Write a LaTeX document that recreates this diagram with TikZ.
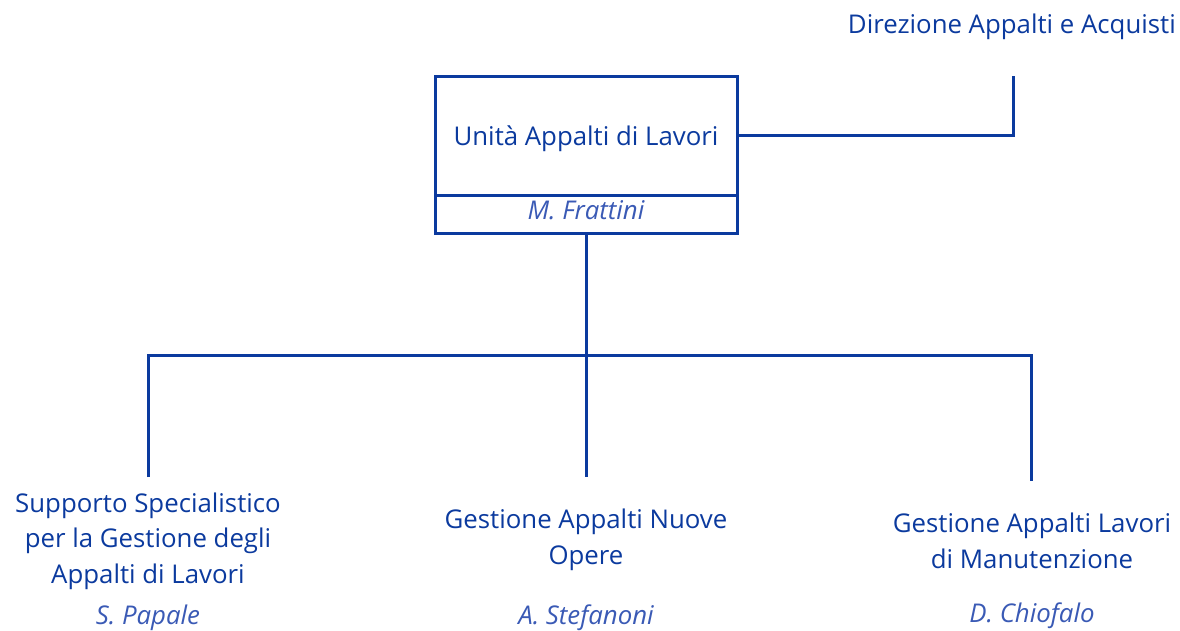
\documentclass[tikz,border=0pt]{standalone}
\usepackage{fontspec}
\setmainfont{Open Sans}
\definecolor{navy}{HTML}{0B3A9E}
\definecolor{namecol}{HTML}{3A5AB5}
\begin{document}
\begin{tikzpicture}[x=1pt,y=-1pt,
  conn/.style={draw=navy,line width=3pt},
  unit/.style={font=\fontsize{25.8}{35.5}\selectfont,text=navy,align=center,inner sep=0pt,anchor=base},
  person/.style={font=\fontsize{25.8}{35.5}\selectfont\itshape,text=namecol,inner sep=0pt,anchor=base},
  boxpart/.style={draw=navy,line width=3pt,minimum width=302pt,inner sep=0pt}]
\useasboundingbox (0,0) rectangle (1180,630);
% main box
\node[boxpart,minimum height=119pt] (top) at (586,135.5) {};
\node[boxpart,minimum height=38pt] (bot) at (586,214) {};
\node[unit] (title) at (586,145) {Unità Appalti di Lavori};
\node[person] (head) at (586,219) {M. Frattini};
% direction
\node[unit,anchor=base east] (dir) at (1176,33) {Direzione Appalti e Acquisti};
\coordinate (dirend) at (1013,76);
\draw[conn] (top.east) -- (1013,135.5) -- (dirend);
% tree
\coordinate (hub) at (586,355);
\coordinate (e1) at (148,477);
\coordinate (e2) at (586,477);
\coordinate (e3) at (1031,481);
\draw[conn] (bot.south) -- (hub);
\draw[conn] (e1) -- (148,355) -- (1031,355) -- (e3);
\draw[conn] (hub) -- (e2);
% units (base anchor = baseline of last line)
\node[unit] (u1) at (148,583) {Supporto Specialistico\\per la Gestione degli\\Appalti di Lavori};
\node[person] (p1) at (148,624) {S. Papale};
\node[unit] (u2) at (586,564) {Gestione Appalti Nuove\\Opere};
\node[person] (p2) at (586,624) {A. Stefanoni};
\node[unit] (u3) at (1032,568) {Gestione Appalti Lavori\\di Manutenzione};
\node[person] (p3) at (1032,622) {D. Chiofalo};
\end{tikzpicture}
\end{document}
